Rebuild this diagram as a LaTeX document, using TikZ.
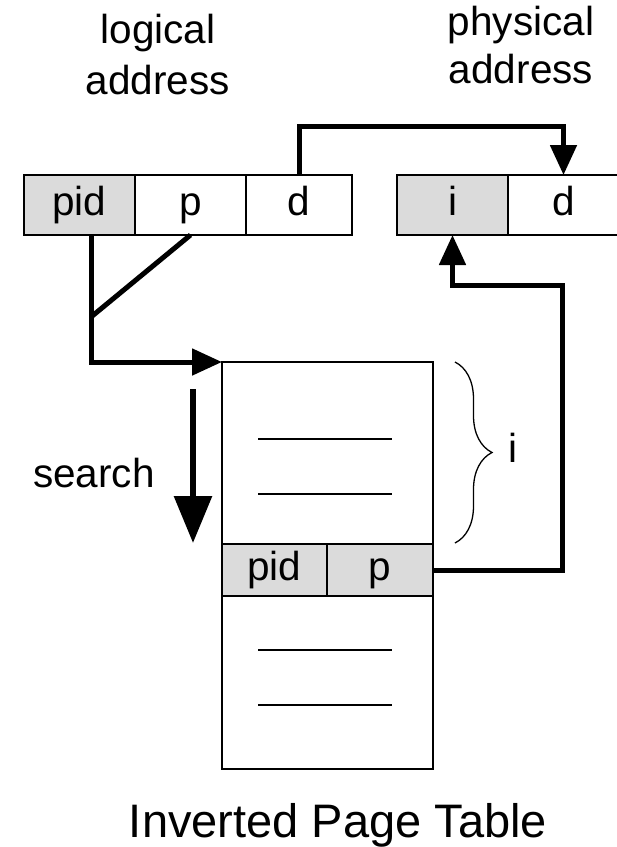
\documentclass[tikz,border=0pt]{standalone}
\usepackage{fontspec}
\setmainfont{Liberation Sans}
\usetikzlibrary{arrows.meta,calc,positioning,decorations.pathreplacing}
\definecolor{cellgray}{gray}{0.86}

\begin{document}
\begin{tikzpicture}[x=1pt,y=-1pt,
    cell/.style={draw,line width=1.8pt,minimum height=60pt,inner sep=0pt,outer sep=0pt,
      text height=29pt,text depth=8pt,font=\fontsize{40.5}{48}\selectfont},
    tblbox/.style={draw,line width=1.8pt,minimum width=211pt,inner sep=0pt,outer sep=0pt},
    lbltext/.style={anchor=base,inner sep=0pt,font=\fontsize{40.5}{48}\selectfont},
    conn/.style={line width=5pt,-{Triangle[length=30pt,width=26pt]}},
    searcharr/.style={line width=6pt,-{Triangle[length=47pt,width=37pt]}}]
    \useasboundingbox (0,0) rectangle (617,847);
    % Overskrifter
    \node[lbltext] (llog) at (158,43) {logical};
    \node[lbltext] (ladr) at (158,94) {address};
    \node[lbltext] (pphy) at (521,35) {physical};
    \node[lbltext] (padr) at (521,83) {address};
    % Logisk adresse
    \node[cell,fill=cellgray,minimum width=111pt] (lpid) at (79.5,205) {pid};
    \node[cell,minimum width=111pt,right=0pt of lpid] (lp) {p};
    \node[cell,minimum width=106pt,right=0pt of lp] (ld) {d};
    % Fysisk adresse
    \node[cell,fill=cellgray,minimum width=111pt] (pi) at (452.5,205) {i};
    \node[cell,minimum width=111pt,right=0pt of pi] (pd) {d};
    % Tabellen
    \node[tblbox,minimum height=182pt] (tup) at (327.5,453) {};
    \node[cell,fill=cellgray,minimum width=105pt,minimum height=52pt,anchor=north west] (tpid) at (tup.south west) {pid};
    \node[cell,fill=cellgray,minimum width=106pt,minimum height=52pt,right=0pt of tpid] (tp) {p};
    \node[tblbox,minimum height=173pt,anchor=north west] (tlow) at (tpid.south west) {};
    \foreach \y in {439,494,650,705}
      \draw[line width=1.8pt] (258,\y) -- (392,\y);
    % Forbindelser
    \coordinate (join) at (91,317);
    \draw[conn] (ld.north) -- ++(0,-49) -| (pd.north);
    \draw[line width=5pt] (lp.south) -- (join);
    \draw[conn] (join |- lpid.south) -- (join) |- (tup.north west);
    \draw[conn] (tp.east) -- ++(129,0) |- ($(pi.south)+(0,50)$) -- (pi.south);
    % Soegning
    \coordinate (stop) at (193,389);
    \coordinate (sbot) at (193,543);
    \draw[searcharr] (stop) -- (sbot);
    \node[lbltext] (srch) at (94,487) {search};
    % Klamme for i
    \coordinate (btop) at (455,362);
    \coordinate (bbot) at (455,543);
    \draw[line width=1.3pt,decorate,decoration={brace,amplitude=37pt}] (btop) -- (bbot);
    \node[lbltext] (bi) at (513,462) {i};
    % Titel
    \node[lbltext,font=\fontsize{47}{56}\selectfont] (title) at (338,837) {Inverted Page Table};
\end{tikzpicture}
\end{document}
